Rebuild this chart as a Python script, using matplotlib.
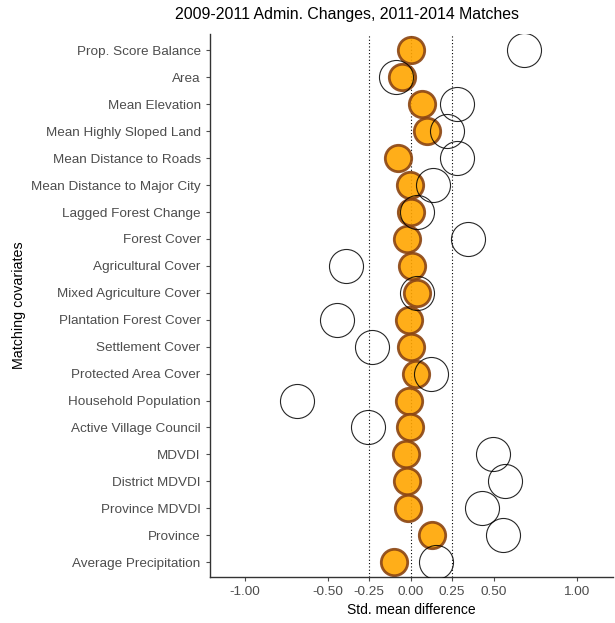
import matplotlib
matplotlib.use("Agg")
import matplotlib.pyplot as plt
import numpy as np

covariates = [
    "Prop. Score Balance", "Area", "Mean Elevation", "Mean Highly Sloped Land",
    "Mean Distance to Roads", "Mean Distance to Major City", "Lagged Forest Change",
    "Forest Cover", "Agricultural Cover", "Mixed Agriculture Cover",
    "Plantation Forest Cover", "Settlement Cover", "Protected Area Cover",
    "Household Population", "Active Village Council", "MDVDI", "District MDVDI",
    "Province MDVDI", "Province", "Average Precipitation",
]
# standardized mean differences after matching (filled) and before (open)
smd_matched = [0.00, -0.05, 0.066, 0.096, -0.076, -0.006, 0.004, -0.02, 0.006, 0.04,
               -0.01, 0.004, 0.034, -0.01, -0.006, -0.026, -0.024, -0.016, 0.128, -0.10]
smd_unmatched = [0.68, -0.09, 0.28, 0.22, 0.278, 0.136, 0.04, 0.346, -0.39, 0.036,
                 -0.444, -0.23, 0.124, -0.686, -0.254, 0.498, 0.566, 0.432, 0.554, 0.152]
xticks = [-1.0, -0.5, -0.25, 0.0, 0.25, 0.5, 1.0]

plt.rcParams["font.family"] = ["Liberation Sans", "DejaVu Sans"]

fig = plt.figure(figsize=(6.15, 6.23), dpi=100)
ax = fig.add_axes([0.341, 0.074, 0.656, 0.871])

y = np.arange(len(covariates))[::-1]

for v in (-0.25, 0.0, 0.25):
    ax.axvline(v, color="black", linestyle=(0, (1, 2)), linewidth=0.8, zorder=1)

ax.plot(smd_matched, y, linestyle="none", marker="o", markersize=19,
        markerfacecolor="#FFA500", markeredgecolor="#8B4513", markeredgewidth=2.0,
        alpha=0.9, zorder=2)
ax.plot(smd_unmatched, y, linestyle="none", marker="o", markersize=24.5,
        markerfacecolor="none", markeredgecolor="black", markeredgewidth=0.8,
        alpha=0.85, zorder=3)

ax.set_xlim(-1.21, 1.22)
ax.set_ylim(-0.55, len(covariates) - 1 + 0.6)
ax.set_yticks(y)
ax.set_yticklabels(covariates)
ax.set_xticks(xticks)
ax.set_xticklabels([f"{t:.2f}" for t in xticks])
ax.tick_params(colors="#4D4D4D", labelsize=9.7, length=3, width=0.8)

for s in ("top", "right"):
    ax.spines[s].set_visible(False)
for s in ("left", "bottom"):
    ax.spines[s].set_color("#333333")
    ax.spines[s].set_linewidth(1.0)

ax.set_xlabel("Std. mean difference", fontsize=10, labelpad=4)
ax.set_ylabel("Matching covariates", fontsize=10.3)
ax.yaxis.set_label_coords(-0.455, 0.5)

fig.text(0.565, 0.976, "2009-2011 Admin. Changes, 2011-2014 Matches",
         ha="center", va="center", fontsize=11.4)

fig.savefig("out.png", dpi=100)
